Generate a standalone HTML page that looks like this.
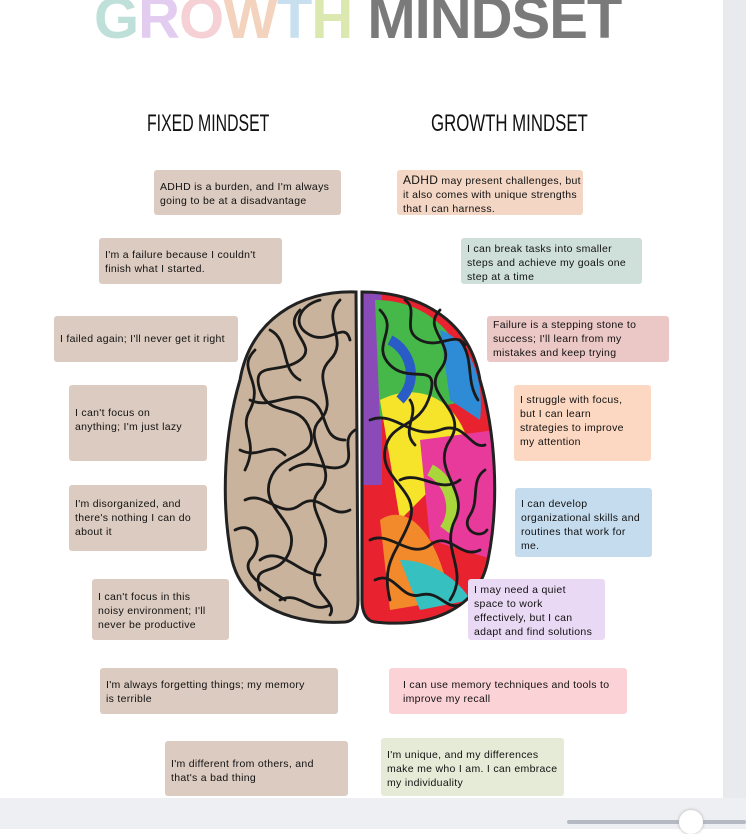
<!DOCTYPE html>
<html><head><meta charset="utf-8"><style>
html,body{margin:0;padding:0}
body{width:746px;height:829px;position:relative;overflow:hidden;background:#fff;font-family:"Liberation Sans",sans-serif}
.strip{position:absolute;left:723px;top:0;width:23px;height:829px;background:#e9eaee}
.bot{position:absolute;left:0;top:798px;width:746px;height:31px;background:#eeeff3}
.track{position:absolute;left:567px;top:820px;width:179px;height:4px;background:#b4b9c2;border-radius:2px}
.thumb{position:absolute;left:679px;top:810px;width:24px;height:24px;border-radius:50%;background:#fff;box-shadow:0 0 3px #aaa}
.title{position:absolute;left:94px;top:-15px;font-size:58px;font-weight:bold;white-space:nowrap;letter-spacing:-1px}
.sub{position:absolute;top:110px;font-size:24px;transform-origin:left top;white-space:nowrap;color:#111}
.b{position:absolute;box-sizing:border-box;border-radius:3px;font-size:10.5px;line-height:14px;color:#111;padding-left:6px;padding-right:2px;letter-spacing:0.3px;white-space:nowrap;overflow:hidden}
.L{background:#dccbc0}
</style></head><body>
<svg style="position:absolute;left:0;top:0" width="746" height="829">
<defs>
<clipPath id="rh"><path d="M362,292 C420,292 470,320 480,380 C495,430 500,500 488,560 C478,610 430,628 375,622 C365,621 362,610 362,600 Z"/></clipPath>
</defs>
<path d="M356,292 C300,290 250,320 240,380 C225,430 220,500 232,560 C244,610 300,625 345,622 C356,621 358,610 358,600 Z" fill="#c9b39c" stroke="#222" stroke-width="3"/>
<g clip-path="url(#rh)">
<rect x="360" y="285" width="140" height="345" fill="#e8232f"/>
<rect x="362" y="285" width="20" height="200" fill="#8a4bb8"/>
<path d="M375,300 C430,300 470,340 470,400 L380,420 Z" fill="#46b84a"/>
<path d="M380,400 C420,380 460,400 470,450 L400,520 Z" fill="#f5e42a"/>
<path d="M420,440 L495,430 L495,560 L430,540 Z" fill="#e83a9a"/>
<path d="M380,520 C410,500 440,540 450,600 L390,610 Z" fill="#f28a2c"/>
<path d="M440,330 C470,340 485,380 480,420 L450,400 Z" fill="#2e8bd6"/>
<path d="M400,560 C430,560 460,580 470,600 L420,610 Z" fill="#36c0c0"/>
<path d="M390,340 C410,350 420,380 400,400" fill="none" stroke="#2a5cc7" stroke-width="10"/>
<path d="M430,470 C450,480 460,510 445,530" fill="none" stroke="#a9d63b" stroke-width="12"/>
</g>
<path d="M362,292 C420,292 470,320 480,380 C495,430 500,500 488,560 C478,610 430,628 375,622 C365,621 362,610 362,600 Z" fill="none" stroke="#222" stroke-width="3"/>
<g fill="none" stroke="#1a1a1a" stroke-width="2.8" stroke-linecap="round">
<path d="M300,310 C280,330 320,345 300,360 C280,375 250,360 260,390 C270,420 300,400 310,430 C320,460 280,450 270,480 C260,510 300,520 290,550 C280,580 250,560 260,590"/>
<path d="M340,300 C320,320 350,340 330,360 C310,380 340,400 320,420 C300,440 340,470 320,490 C300,510 340,530 320,560 C300,590 340,600 330,615"/>
<path d="M250,400 C270,410 290,390 310,400 C330,410 320,440 345,440"/>
<path d="M245,500 C265,490 280,520 300,505 C320,490 330,520 350,510"/>
<path d="M270,330 C290,340 280,370 300,380"/>
<path d="M240,450 C260,460 270,440 285,455"/>
<path d="M260,560 C280,545 300,575 320,575"/>
<path d="M255,350 C235,370 265,380 250,410 C238,430 260,440 245,470"/>
<path d="M320,300 C300,305 290,325 310,335 C330,345 345,320 350,340"/>
<path d="M235,530 C255,520 265,545 250,560 C240,575 270,590 285,600"/>
<path d="M280,600 C300,590 310,615 330,605"/>
<path d="M290,470 C310,455 330,475 345,465 C355,455 340,440 355,430"/>
<path d="M380,310 C400,330 370,345 390,365 C410,385 440,360 430,395 C420,430 390,420 385,450 C380,480 420,490 410,520 C400,550 380,560 390,600"/>
<path d="M440,310 C420,330 460,345 440,370 C420,395 470,410 450,440 C430,470 470,490 455,520 C440,550 470,570 450,600"/>
<path d="M370,420 C395,410 410,440 440,430 C465,420 470,450 485,445"/>
<path d="M370,540 C390,530 410,560 430,545 C450,530 460,560 480,550"/>
<path d="M460,340 C475,360 465,380 478,400"/>
<path d="M400,480 C420,470 440,495 460,480"/>
<path d="M405,300 C420,310 400,330 420,340 C440,350 455,330 465,345"/>
<path d="M485,470 C470,480 480,500 470,515 C460,530 480,540 487,530"/>
<path d="M375,580 C395,570 400,600 420,595 C440,590 445,610 460,605"/>
<path d="M410,400 C420,415 400,430 415,445"/>
</g>
</svg>

<div class="title"><span style="color:#bfe0d8">G</span><span style="color:#e2cdf0">R</span><span style="color:#f5d0d4">O</span><span style="color:#f3d3bd">W</span><span style="color:#c8dff0">T</span><span style="color:#dbe8b0">H</span> <span style="color:#7a7a7a">MINDSET</span></div>
<div class="sub" style="left:147px;transform:scaleX(0.66)">FIXED MINDSET</div>
<div class="sub" style="left:431px;transform:scaleX(0.7)">GROWTH MINDSET</div>

<div class="b L" style="left:154px;top:170px;width:187px;height:45px;padding-top:10px">ADHD is a burden, and I'm always<br>going to be at a disadvantage</div>
<div class="b L" style="left:99px;top:238px;width:183px;height:46px;padding-top:10px">I'm a failure because I couldn't<br>finish what I started.</div>
<div class="b L" style="left:54px;top:316px;width:184px;height:46px;padding-top:16px">I failed again; I'll never get it right</div>
<div class="b L" style="left:69px;top:385px;width:138px;height:76px;padding-top:21px">I can't focus on<br>anything; I'm just lazy</div>
<div class="b L" style="left:69px;top:485px;width:138px;height:66px;padding-top:12px">I'm disorganized, and<br>there's nothing I can do<br>about it</div>
<div class="b L" style="left:92px;top:579px;width:137px;height:61px;padding-top:11px">I can't focus in this<br>noisy environment; I'll<br>never be productive</div>
<div class="b L" style="left:100px;top:668px;width:238px;height:46px;padding-top:10px">I'm always forgetting things; my memory<br>is terrible</div>
<div class="b L" style="left:165px;top:741px;width:183px;height:55px;padding-top:16px">I'm different from others, and<br>that's a bad thing</div>

<div class="b" style="background:#f3d6c4;left:397px;top:170px;width:186px;height:45px;padding-top:3px"><span style="font-size:12px">ADHD</span> may present challenges, but<br>it also comes with unique strengths<br>that I can harness.</div>
<div class="b" style="background:#cfe0db;left:461px;top:238px;width:181px;height:46px;padding-top:4px">I can break tasks into smaller<br>steps and achieve my goals one<br>step at a time</div>
<div class="b" style="background:#ebc8c6;left:487px;top:316px;width:182px;height:46px;padding-top:2px">Failure is a stepping stone to<br>success; I'll learn from my<br>mistakes and keep trying</div>
<div class="b" style="background:#fcd8c2;left:514px;top:385px;width:137px;height:76px;padding-top:8px">I struggle with focus,<br>but I can learn<br>strategies to improve<br>my attention</div>
<div class="b" style="background:#c5dcef;left:515px;top:488px;width:137px;height:69px;padding-top:9px">I can develop<br>organizational skills and<br>routines that work for<br>me.</div>
<div class="b" style="background:#ead9f4;left:468px;top:579px;width:137px;height:61px;padding-top:4px">I may need a quiet<br>space to work<br>effectively, but I can<br>adapt and find solutions</div>
<div class="b" style="background:#fbd2d6;left:389px;top:668px;width:238px;height:46px;padding-top:10px;padding-left:14px">I can use memory techniques and tools to<br>improve my recall</div>
<div class="b" style="background:#e6ebd8;left:381px;top:738px;width:183px;height:58px;padding-top:10px">I'm unique, and my differences<br>make me who I am. I can embrace<br>my individuality</div>

<div class="strip"></div>
<div class="bot"></div>
<div class="track"></div>
<div class="thumb"></div>
</body></html>
